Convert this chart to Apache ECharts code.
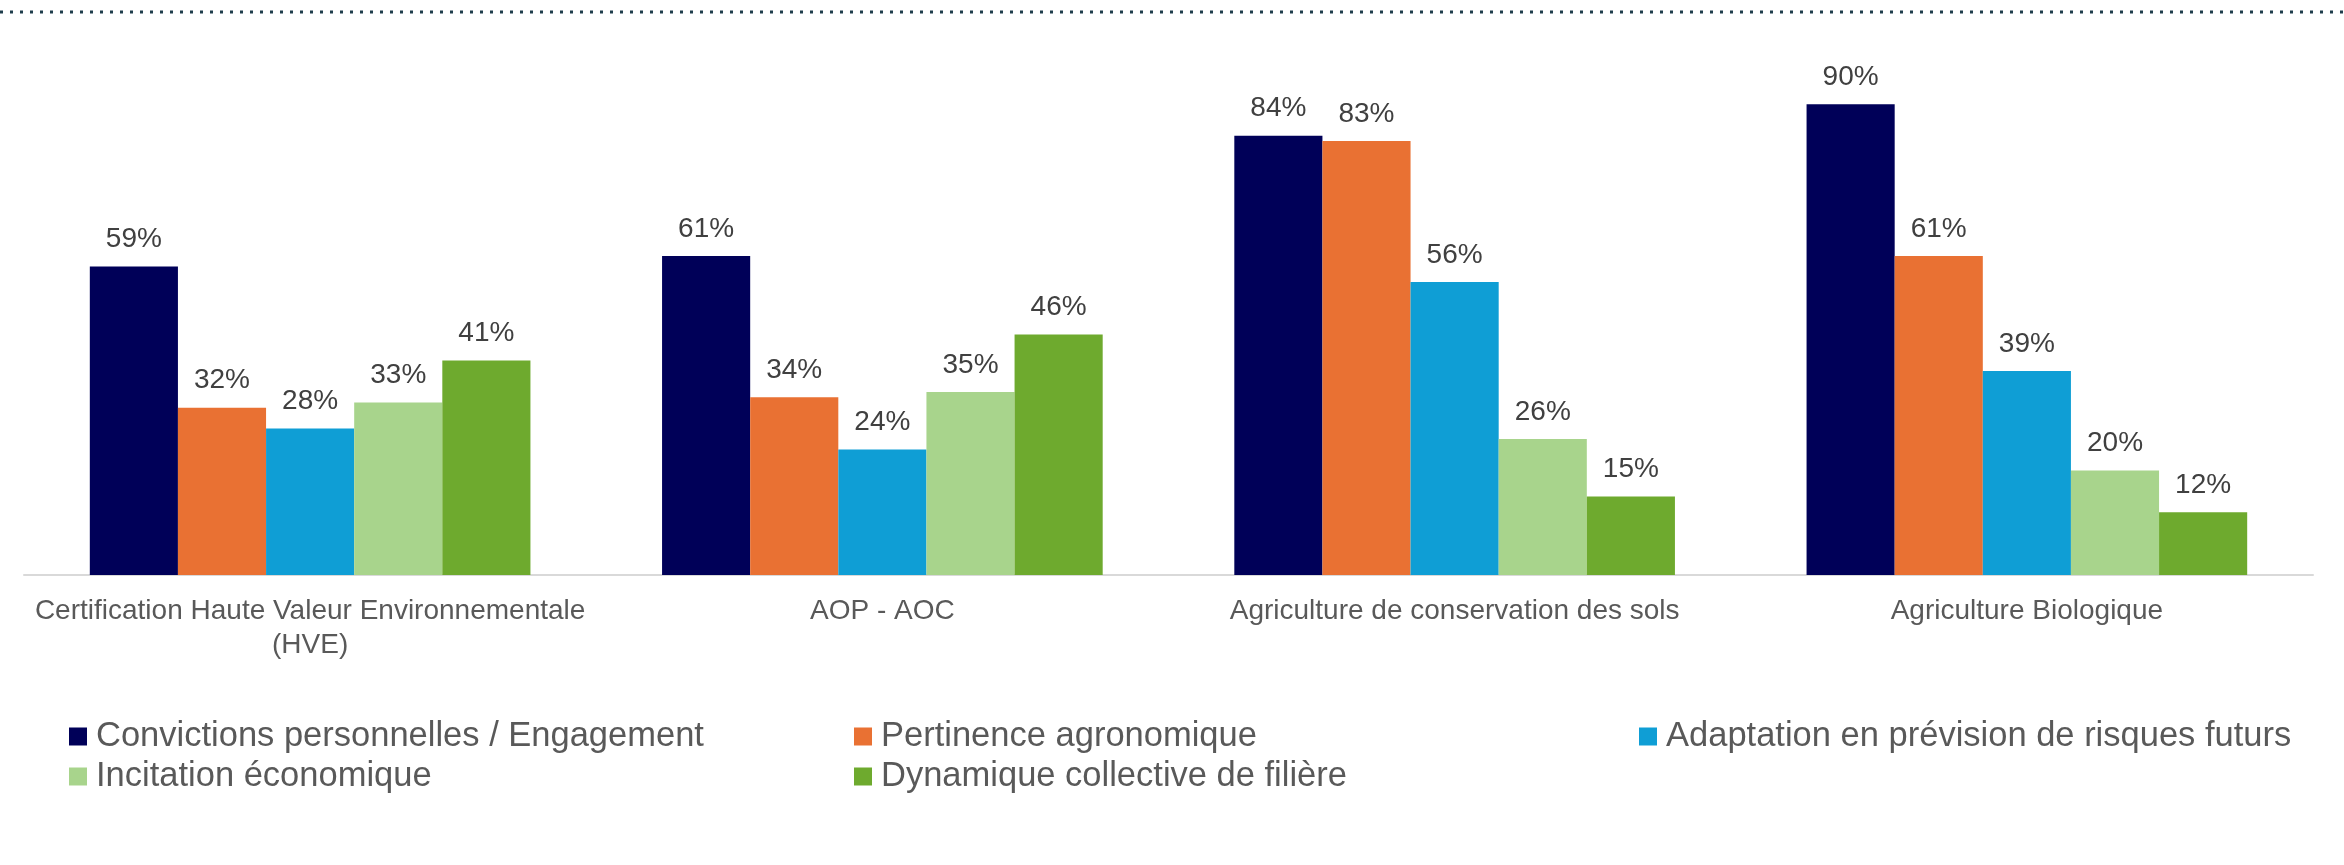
<!DOCTYPE html>
<html>
<head>
<meta charset="utf-8">
<title>Motivations par démarche</title>
<script src="https://cdn.jsdelivr.net/npm/echarts@6/dist/echarts.min.js"></script>
<style>
  html, body { margin: 0; padding: 0; background: #fff; }
  #chart { width: 2344px; height: 865px; }
</style>
</head>
<body>
<div id="chart"></div>
<script>
// categories (axe x)
const categories = [
  "Certification Haute Valeur Environnementale\n(HVE)",
  "AOP - AOC",
  "Agriculture de conservation des sols",
  "Agriculture Biologique"
];

// séries, valeurs en %
const seriesNames = [
  "Convictions personnelles / Engagement",
  "Pertinence agronomique",
  "Adaptation en prévision de risques futurs",
  "Incitation économique",
  "Dynamique collective de filière"
];
const convictions = [59, 61, 84, 90];
const pertinence = [32, 34, 83, 61];
const adaptation = [28, 24, 56, 39];
const incitation = [33, 35, 26, 20];
const dynamique = [41, 46, 15, 12];

const colors = ["#000058", "#E97133", "#0F9ED5", "#A8D48C", "#6EAA2E"];
const values = [convictions, pertinence, adaptation, incitation, dynamique];

const font = "'Liberation Sans', Arial, sans-serif";

// légende en grille (3 colonnes, 2 lignes)
const legendPos = [
  { left: 69, top: 719 },
  { left: 854, top: 719 },
  { left: 1639, top: 719 },
  { left: 69, top: 759 },
  { left: 854, top: 759 }
];

let option = {
  animation: false,
  color: colors,
  textStyle: { fontFamily: font },
  grid: { left: 24, right: 31, top: 52, bottom: 290 },
  legend: seriesNames.map(function (name, i) {
    return {
      data: [name],
      left: legendPos[i].left,
      top: legendPos[i].top,
      padding: 0,
      icon: "rect",
      itemWidth: 18,
      itemHeight: 18,
      selectedMode: false,
      textStyle: {
        fontFamily: font,
        fontSize: 34.5,
        color: "#595959",
        padding: [0, 0, 0, 4]
      }
    };
  }),
  xAxis: {
    type: "category",
    data: categories,
    axisLine: { lineStyle: { color: "#D9D9D9", width: 2 } },
    axisTick: { show: false },
    axisLabel: {
      interval: 0,
      margin: 19,
      color: "#595959",
      fontFamily: font,
      fontSize: 28,
      lineHeight: 34
    }
  },
  yAxis: {
    type: "value",
    min: 0,
    max: 100,
    show: false,
    splitLine: { show: false }
  },
  graphic: [
    {
      type: "line",
      shape: { x1: 0, y1: 12, x2: 2344, y2: 12 },
      style: { stroke: "#1E3D4C", lineWidth: 3, lineDash: [3, 7] },
      silent: true
    }
  ],
  series: []
};

for (let i = 0; i < seriesNames.length; i++) {
  option.series.push({
    name: seriesNames[i],
    type: "bar",
    barGap: "0%",
    barCategoryGap: "23%",
    data: values[i],
    itemStyle: { color: colors[i] },
    label: {
      show: true,
      position: "top",
      distance: 13,
      formatter: "{c}%",
      color: "#404040",
      fontFamily: font,
      fontSize: 28
    }
  });
}

const chartObj = echarts.init(document.getElementById("chart"));
chartObj.setOption(option);
window.addEventListener("resize", function () {
  chartObj.resize();
});
</script>
</body>
</html>
